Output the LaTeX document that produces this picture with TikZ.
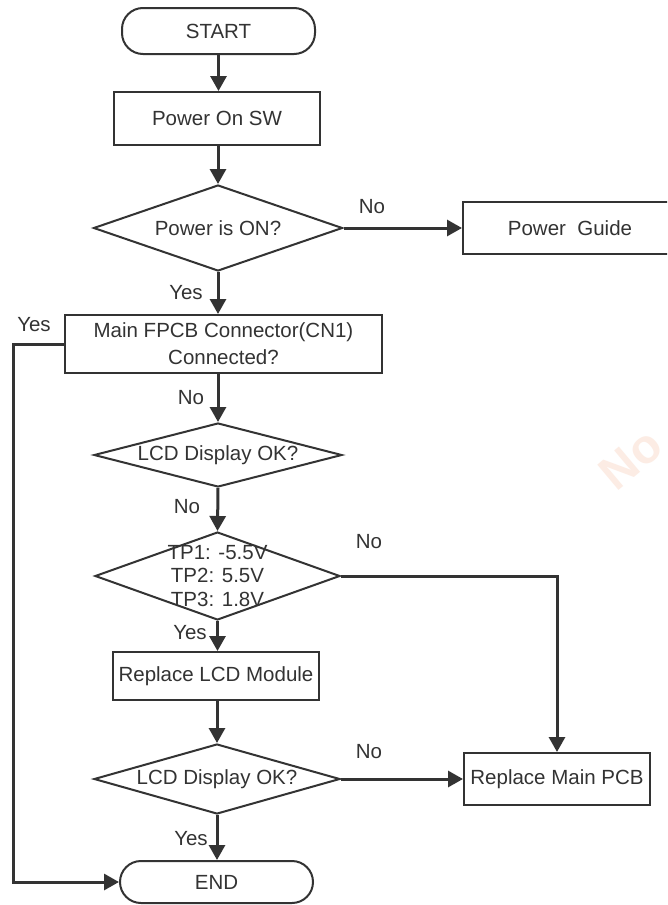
\documentclass[tikz,border=0pt]{standalone}
\usepackage{fontspec}
\setmainfont{Liberation Sans}
\usetikzlibrary{shapes.geometric,arrows.meta}
\definecolor{ink}{HTML}{333333}
\definecolor{wmark}{RGB}{252,236,228}
\begin{document}
\begin{tikzpicture}[x=1pt,y=-1pt,
  every node/.style={font=\fontsize{20.5}{23.5}\selectfont, text=ink},
  box/.style={draw=ink, line width=2pt, rectangle, inner sep=0pt},
  term/.style={draw=ink, line width=2pt, rectangle, rounded corners=21pt, inner sep=0pt},
  dia/.style={draw=ink, line width=2pt, diamond, inner sep=0pt, aspect=3},
  conn/.style={draw=ink, line width=3pt, -{Triangle[length=15pt,width=16pt]}},
  lbl/.style={inner sep=0pt}]
\clip (0,0) rectangle (667,905);
\fill[white] (0,0) rectangle (667,905);
% watermark
\node[font=\bfseries\fontsize{48}{52}\selectfont, text=wmark, rotate=40, inner sep=0pt] (wm) at (631,459) {No};
% nodes
\node[term, minimum width=193pt, minimum height=46pt] (start) at (218.5,31) {START};
\node[box, minimum width=206pt, minimum height=53pt] (pow) at (217,118.5) {Power On SW};
\node[dia, minimum width=249pt, minimum height=86pt] (d1) at (218,228) {};
\node[lbl] (d1t) at (d1) {Power is ON?};
\node[box, minimum width=214pt, minimum height=52pt] (guide) at (570,228) {Power~ Guide};
\node[box, minimum width=317pt, minimum height=58pt, align=center] (fpcb) at (223.5,344) {Main FPCB Connector(CN1)\\[3.5pt]Connected?};
\node[dia, minimum width=248pt, minimum height=64pt] (d2) at (218,455) {};
\node[lbl] (d2t) at (d2) {LCD Display OK?};
\node[dia, minimum width=245pt, minimum height=88pt] (d3) at (217.5,576) {};
\node[lbl, align=center] (d3t) at (d3) {TP1: -5.5V\\TP2: 5.5V\\TP3: 1.8V};
\node[box, minimum width=206pt, minimum height=48pt] (lcdmod) at (216,676) {Replace LCD Module};
\node[dia, minimum width=246pt, minimum height=70pt] (d4) at (217,779) {};
\node[lbl] (d4t) at (d4) {LCD Display OK?};
\node[box, minimum width=186pt, minimum height=52pt] (pcb) at (557,779) {Replace Main PCB};
\node[term, minimum width=193pt, minimum height=42pt] (end) at (216.5,882) {END};
\coordinate (lx) at (13,344);
% connectors
\draw[conn] (start.south) -- (start.south |- pow.north);
\draw[conn] (pow.south -| d1.north) -- (d1.north);
\draw[conn] (d1.east) -- (guide.west);
\draw[conn] (d1.south) -- (d1.south |- fpcb.north);
\draw[conn] (d2.north |- fpcb.south) -- (d2.north);
\draw[conn] (d2.south) -- (d3.north);
\draw[conn] (d3.south) -- (d3.south |- lcdmod.north);
\draw[conn] (d4.north |- lcdmod.south) -- (d4.north);
\draw[conn] (d3.east) -| (pcb.north);
\draw[conn] (d4.east) -- (pcb.west);
\draw[conn] (d4.south) -- (d4.south |- end.north);
\draw[conn] (fpcb.west) -- (lx) |- (end.west);
% labels
\node[lbl] (l1) at (372,207) {No};
\node[lbl] (l2) at (186,293) {Yes};
\node[lbl] (l3) at (34,325) {Yes};
\node[lbl] (l4) at (191,398) {No};
\node[lbl] (l5) at (187,507) {No};
\node[lbl] (l6) at (369,542) {No};
\node[lbl] (l7) at (190,633) {Yes};
\node[lbl] (l8) at (369,752) {No};
\node[lbl] (l9) at (191,839) {Yes};
\end{tikzpicture}
\end{document}
